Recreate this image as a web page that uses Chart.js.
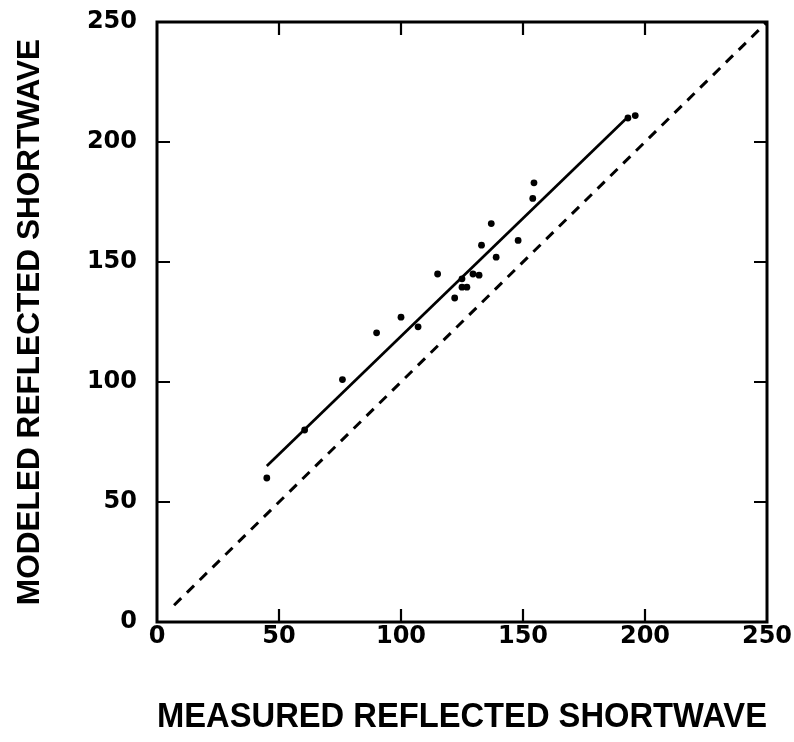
<!DOCTYPE html>
<html>
<head>
<meta charset="utf-8">
<script src="https://cdn.jsdelivr.net/npm/chart.js@4.4.0/dist/chart.umd.min.js"></script>
<style>
  html, body { margin: 0; padding: 0; background: #fff; }
  #wrap { width: 794px; height: 742px; position: relative; }
</style>
</head>
<body>
<div id="wrap"><canvas id="c"></canvas></div>
<script>
// Measured vs modeled reflected shortwave
const measured = [45, 60.5, 76, 90, 100, 107, 115, 122, 125, 125, 127, 129.5, 132, 133, 137, 139, 148, 154, 154.5, 193, 196];
const modeled  = [60, 80, 101, 120.5, 127, 123, 145, 135, 143, 139.5, 139.5, 145, 144.5, 157, 166, 152, 159, 176.5, 183, 210, 211];

// Regression (fit) line end points
const fitX = [45, 192];
const fitY = [65, 209.5];

// 1:1 line end points
const oneX = [7, 250];
const oneY = [7, 250];

// Axis ticks
const tickValues = [0, 50, 100, 150, 200, 250];
const innerTicks = [50, 100, 150, 200];

const xTitle = 'MEASURED REFLECTED SHORTWAVE';
const yTitle = 'MODELED REFLECTED SHORTWAVE';

const toPts = (xs, ys) => xs.map((x, i) => ({ x: x, y: ys[i] }));

const framePlugin = {
  id: 'frame',
  afterDatasetsDraw(chart) {
    const { ctx, chartArea: a, scales } = chart;
    const xs = scales.x, ys = scales.y;
    ctx.save();
    ctx.strokeStyle = '#000';
    ctx.lineWidth = 3;
    ctx.strokeRect(a.left, a.top, a.right - a.left, a.bottom - a.top);
    ctx.lineWidth = 2.2;
    const L = 13;
    ctx.beginPath();
    innerTicks.forEach(v => {
      const px = xs.getPixelForValue(v);
      ctx.moveTo(px, a.bottom); ctx.lineTo(px, a.bottom - L);
      ctx.moveTo(px, a.top); ctx.lineTo(px, a.top + L);
      const py = ys.getPixelForValue(v);
      ctx.moveTo(a.left, py); ctx.lineTo(a.left + L, py);
      ctx.moveTo(a.right, py); ctx.lineTo(a.right - L, py);
    });
    ctx.stroke();
    ctx.restore();
  }
};

const zeroPad = s => { s.paddingTop = 0; s.paddingBottom = 0; s.paddingLeft = 0; s.paddingRight = 0; };

const tickFont = { family: 'DejaVu Sans', size: 24, weight: 'bold' };
const xTitleFont = { family: 'Liberation Sans', size: 34.7, weight: 'bold', lineHeight: 1 };
const yTitleFont = { family: 'Liberation Sans', size: 31.6, weight: 'bold', lineHeight: 1 };

new Chart(document.getElementById('c'), {
  type: 'scatter',
  data: {
    datasets: [
      {
        data: toPts(oneX, oneY),
        showLine: true,
        borderColor: '#000',
        borderWidth: 3,
        borderDash: [10, 8],
        pointRadius: 0,
        fill: false
      },
      {
        data: toPts(fitX, fitY),
        showLine: true,
        borderColor: '#000',
        borderWidth: 2.7,
        pointRadius: 0,
        fill: false
      },
      {
        data: toPts(measured, modeled),
        showLine: false,
        pointStyle: 'circle',
        pointRadius: 3.4,
        pointBackgroundColor: '#000',
        pointBorderColor: '#000',
        pointBorderWidth: 0
      }
    ]
  },
  options: {
    responsive: true,
    maintainAspectRatio: false,
    animation: false,
    layout: { padding: { top: 22, right: 27, bottom: 0, left: 0 } },
    plugins: { legend: { display: false }, tooltip: { enabled: false } },
    scales: {
      x: {
        type: 'linear',
        min: 0, max: 250,
        afterBuildTicks: s => { s.ticks = tickValues.map(v => ({ value: v })); },
        afterFit: s => { s.height = 120; zeroPad(s); },
        grid: { display: false, drawTicks: false },
        border: { display: false },
        ticks: { color: '#000', font: tickFont, padding: 0, maxRotation: 0 },
        title: { display: true, text: xTitle, color: '#000', font: xTitleFont, padding: { top: 0, bottom: 7 } }
      },
      y: {
        type: 'linear',
        min: 0, max: 250,
        afterBuildTicks: s => { s.ticks = tickValues.map(v => ({ value: v })); },
        afterFit: s => { s.width = 157; zeroPad(s); },
        grid: { display: false, drawTicks: false },
        border: { display: false },
        ticks: { color: '#000', font: tickFont, padding: 20 },
        title: { display: true, text: yTitle, color: '#000', font: yTitleFont, padding: { top: 14, bottom: 0 } }
      }
    }
  },
  plugins: [framePlugin]
});
</script>
</body>
</html>
